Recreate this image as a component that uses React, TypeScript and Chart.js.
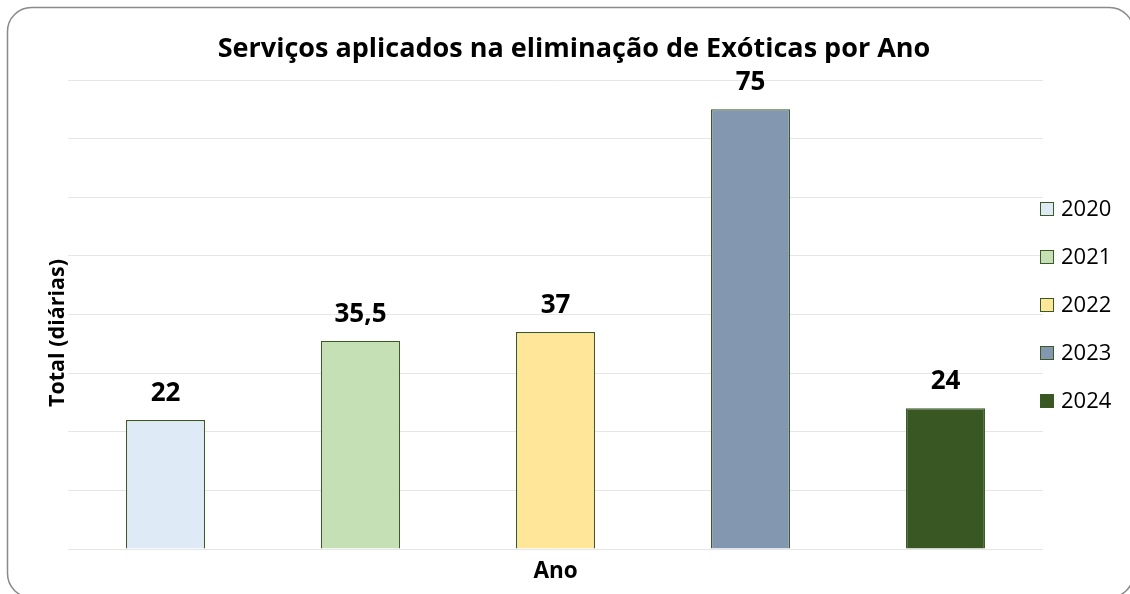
import React, { useEffect, useRef } from "react";
import { Chart, registerables } from "chart.js";

Chart.register(...registerables);

const title = "Serviços aplicados na eliminação de Exóticas por Ano";
const xTitle = "Ano";
const yTitle = "Total (diárias)";
const categories = ["2020", "2021", "2022", "2023", "2024"];
const values = [22, 35.5, 37, 75, 24];
const valueLabels = ["22", "35,5", "37", "75", "24"];
const barColors = ["#DEEBF7", "#C5E0B4", "#FFE699", "#8497B0", "#385723"];
const yMin = 0;
const yMax = 80;
const yStep = 10;

const FONT = '"Open Sans", sans-serif';
const BORDER_GREEN = "#3A5A24";

export default function App() {
  const ref = useRef<HTMLCanvasElement | null>(null);

  useEffect(() => {
    const canvas = ref.current;
    if (!canvas) return;

    const framePlugin = {
      id: "frame",
      beforeDraw(chart: any) {
        const ctx = chart.ctx;
        ctx.save();
        ctx.fillStyle = "#ffffff";
        ctx.fillRect(0, 0, chart.width, chart.height);
        ctx.beginPath();
        ctx.roundRect(7.5, 7.5, 1126, 590, 24);
        ctx.strokeStyle = "#8a8a8a";
        ctx.lineWidth = 1.5;
        ctx.stroke();
        ctx.restore();
      },
    };

    const labelPlugin = {
      id: "valueLabels",
      afterDatasetsDraw(chart: any) {
        const ctx = chart.ctx;
        const meta = chart.getDatasetMeta(0);
        ctx.save();
        ctx.fillStyle = "#000000";
        ctx.font = `bold 26px ${FONT}`;
        ctx.textAlign = "center";
        ctx.textBaseline = "alphabetic";
        meta.data.forEach((el: any, i: number) => {
          ctx.fillText(valueLabels[i], el.x, el.y - 19);
        });
        ctx.restore();
      },
    };

    const textPlugin = {
      id: "texts",
      afterDraw(chart: any) {
        const ctx = chart.ctx;
        const area = chart.chartArea;
        ctx.save();
        ctx.fillStyle = "#000000";
        // Title
        ctx.font = `bold 27px ${FONT}`;
        ctx.textAlign = "center";
        ctx.textBaseline = "alphabetic";
        ctx.fillText(title, 574, 57);
        // X title
        ctx.font = `bold 22.5px ${FONT}`;
        ctx.fillText(xTitle, (area.left + area.right) / 2, 578);
        // Y title
        ctx.save();
        ctx.translate(64, 333);
        ctx.rotate(-Math.PI / 2);
        ctx.font = `bold 21.5px ${FONT}`;
        ctx.textAlign = "center";
        ctx.fillText(yTitle, 0, 0);
        ctx.restore();
        // Legend
        ctx.font = `22px ${FONT}`;
        ctx.textAlign = "left";
        ctx.textBaseline = "middle";
        categories.forEach((c, i) => {
          const cy = 209 + i * 48;
          ctx.fillStyle = barColors[i];
          ctx.fillRect(1040.5, cy - 6.5, 13, 13);
          ctx.strokeStyle = BORDER_GREEN;
          ctx.lineWidth = 1;
          ctx.strokeRect(1040.5, cy - 6.5, 13, 13);
          ctx.fillStyle = "#000000";
          ctx.fillText(c, 1061, cy + 1);
        });
        ctx.restore();
      },
    };

    const chart = new Chart(canvas, {
      type: "bar",
      data: {
        labels: categories,
        datasets: [
          {
            data: values,
            backgroundColor: barColors,
            borderColor: BORDER_GREEN,
            borderWidth: 1.2,
            categoryPercentage: 1,
            barPercentage: 0.405,
          },
        ],
      },
      options: {
        responsive: false,
        animation: false,
        devicePixelRatio: 1,
        layout: { padding: { left: 68, right: 87, top: 80, bottom: 45 } },
        plugins: {
          legend: { display: false },
          title: { display: false },
          tooltip: { enabled: false },
        },
        scales: {
          x: {
            grid: { display: false },
            ticks: { display: false },
            border: { display: false },
            afterFit: (s: any) => {
              s.height = 0;
            },
          },
          y: {
            min: yMin,
            max: yMax,
            ticks: { display: false, stepSize: yStep },
            grid: { color: "#e6e6e6", lineWidth: 1, drawTicks: false },
            border: { display: false },
            afterFit: (s: any) => {
              s.width = 0;
            },
          },
        },
      },
      plugins: [framePlugin, labelPlugin, textPlugin],
    });

    return () => chart.destroy();
  }, []);

  return (
    <div style={{ position: "fixed", left: 0, top: 0, width: 1130, height: 594 }}>
      <canvas ref={ref} width={1130} height={594} style={{ display: "block" }} />
    </div>
  );
}
